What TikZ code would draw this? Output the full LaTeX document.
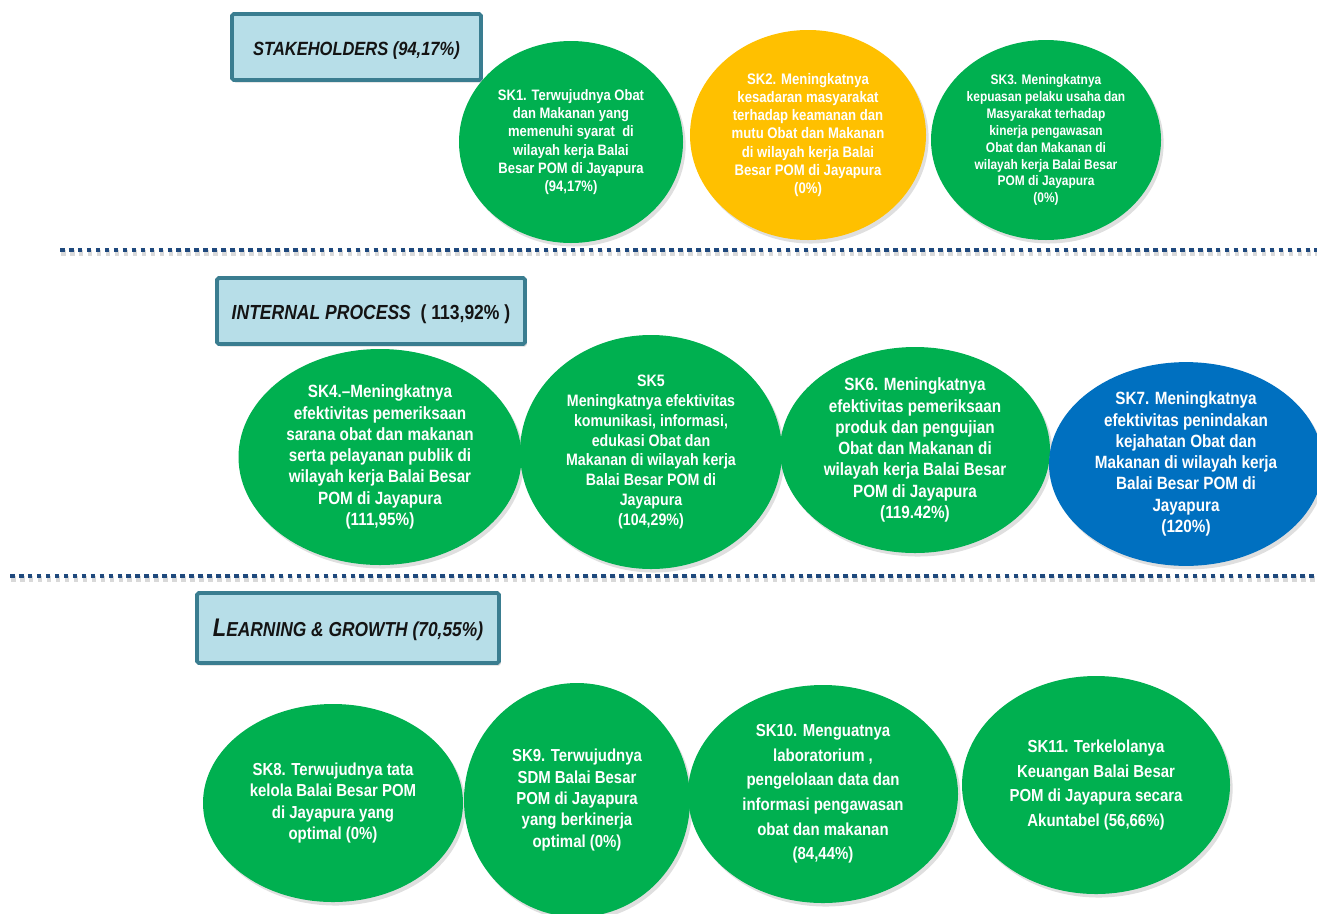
\documentclass[tikz,border=0pt]{standalone}
\usepackage{fontspec}
\setmainfont{Liberation Sans}[FakeStretch=0.86]
\usetikzlibrary{shapes.geometric,shadows}
\definecolor{skgreen}{HTML}{00B050}
\definecolor{skorange}{HTML}{FFC000}
\definecolor{skblue}{HTML}{0070C0}
\definecolor{hdrfill}{HTML}{B7DEE8}
\definecolor{hdrline}{HTML}{3A7D90}
\definecolor{sepblue}{HTML}{1F497D}
\begin{document}
\begin{tikzpicture}[x=0.02cm, y=-0.02cm,
	hdr/.style={draw=hdrline, line width=2.2pt, fill=hdrfill, rounded corners=1pt, text=black!92,
		font=\bfseries\itshape\fontsize{10.9}{13}\selectfont, text height=12pt, text depth=2.5pt,
		drop shadow={opacity=0.3, shadow xshift=1pt, shadow yshift=-1.5pt}},
	obj/.style={ellipse, inner sep=0pt, align=center, text=white,
		drop shadow={opacity=0.25, shadow xshift=1.5pt, shadow yshift=-2pt}},
	dim/.style 2 args={minimum width=#1*0.02cm, minimum height=#2*0.02cm},
	fsz/.style 2 args={font=\bfseries\fontsize{#1}{#2}\selectfont},
	sep/.style={sepblue, line width=2.3pt, dash pattern=on 2.6pt off 2.5pt},
	sepshade/.style={black, opacity=0.15, line width=3pt, dash pattern=on 2.6pt off 2.5pt}]
			\useasboundingbox (0,0) rectangle (1317,913);
			
			\coordinate (s1a) at (60,250);
			\coordinate (s1b) at (1317,250);
			\coordinate (s2a) at (10,576);
			\coordinate (s2b) at (1317,576);
			\draw[sepshade] ([shift={(1,3)}]s1a) -- ([shift={(1,3)}]s1b);
			\draw[sepshade] ([shift={(1,3)}]s2a) -- ([shift={(1,3)}]s2b);
			\draw[sep] (s1a) -- (s1b);
			\draw[sep] (s2a) -- (s2b);
			
			\node[hdr, dim={249}{66}] (stake) at (356.5,47) {STAKEHOLDERS (94,17\%)};
			\node[hdr, dim={308}{66}, font=\bfseries\itshape\fontsize{11.6}{13}\selectfont] (intern) at (371,311)
				{INTERNAL PROCESS~~{\upshape( 113,92\% )}};
			\node[hdr, dim={302}{70}] (learn) at (348,628)
				{{\fontsize{14.5}{15}\selectfont L}{\fontsize{11.5}{13}\selectfont EARNING \& GROWTH (70,55\%)}};
			
			\node[obj, fill=skgreen, dim={224}{202}, fsz={8.6}{10.4}] (sk1) at (571,142)
				{SK1. Terwujudnya Obat\\dan Makanan yang\\memenuhi syarat~~di\\wilayah kerja Balai\\Besar POM di Jayapura\\(94,17\%)};
			\node[obj, fill=skorange, dim={236}{210}, fsz={8.7}{10.4}] (sk2) at (808,135)
				{SK2. Meningkatnya\\kesadaran masyarakat\\terhadap keamanan dan\\mutu Obat dan Makanan\\di wilayah kerja Balai\\Besar POM di Jayapura\\(0\%)};
			\node[obj, fill=skgreen, dim={230}{200}, fsz={7.9}{9.65}] (sk3) at (1046,140)
				{SK3. Meningkatnya\\kepuasan pelaku usaha dan\\Masyarakat terhadap\\kinerja pengawasan\\Obat dan Makanan di\\wilayah kerja Balai Besar\\POM di Jayapura\\(0\%)};
			
			\node[obj, fill=skgreen, dim={283}{216}, fsz={10.1}{12.1}] (sk4) at (380,457)
				{SK4.–Meningkatnya\\efektivitas pemeriksaan\\sarana obat dan makanan\\serta pelayanan publik di\\wilayah kerja Balai Besar\\POM di Jayapura\\(111,95\%)};
			\node[obj, fill=skgreen, dim={262}{234}, fsz={9.4}{11.3}] (sk5) at (651,452)
				{SK5\\Meningkatnya efektivitas\\komunikasi, informasi,\\edukasi Obat dan\\Makanan di wilayah kerja\\Balai Besar POM di\\Jayapura\\(104,29\%)};
			\node[obj, fill=skgreen, dim={270}{206}, fsz={10.1}{12.1}] (sk6) at (915,450)
				{SK6. Meningkatnya\\efektivitas pemeriksaan\\produk dan pengujian\\Obat dan Makanan di\\wilayah kerja Balai Besar\\POM di Jayapura\\(119.42\%)};
			\node[obj, fill=skblue, dim={274}{198}, fsz={10.1}{12.1}] (sk7) at (1186,464)
				{SK7. Meningkatnya\\efektivitas penindakan\\kejahatan Obat dan\\Makanan di wilayah kerja\\Balai Besar POM di\\Jayapura\\(120\%)};
			
			\node[obj, fill=skgreen, dim={260}{198}, fsz={9.9}{12.1}] (sk8) at (333,803)
				{SK8. Terwujudnya tata\\kelola Balai Besar POM\\di Jayapura yang\\optimal (0\%)};
			\node[obj, fill=skgreen, dim={226}{234}, fsz={9.9}{12.2}] (sk9) at (577,800)
				{SK9. Terwujudnya\\SDM Balai Besar\\POM di Jayapura\\yang berkinerja\\optimal (0\%)};
			\node[obj, fill=skgreen, dim={270}{218}, fsz={9.9}{14}] (sk10) at (823,794)
				{SK10. Menguatnya\\laboratorium ,\\pengelolaan data dan\\informasi pengawasan\\obat dan makanan\\(84,44\%)};
			\node[obj, fill=skgreen, dim={268}{218}, fsz={9.9}{14.2}] (sk11) at (1096,785)
				{SK11. Terkelolanya\\Keuangan Balai Besar\\POM di Jayapura secara\\Akuntabel (56,66\%)};
		
		\end{tikzpicture}
\end{document}
